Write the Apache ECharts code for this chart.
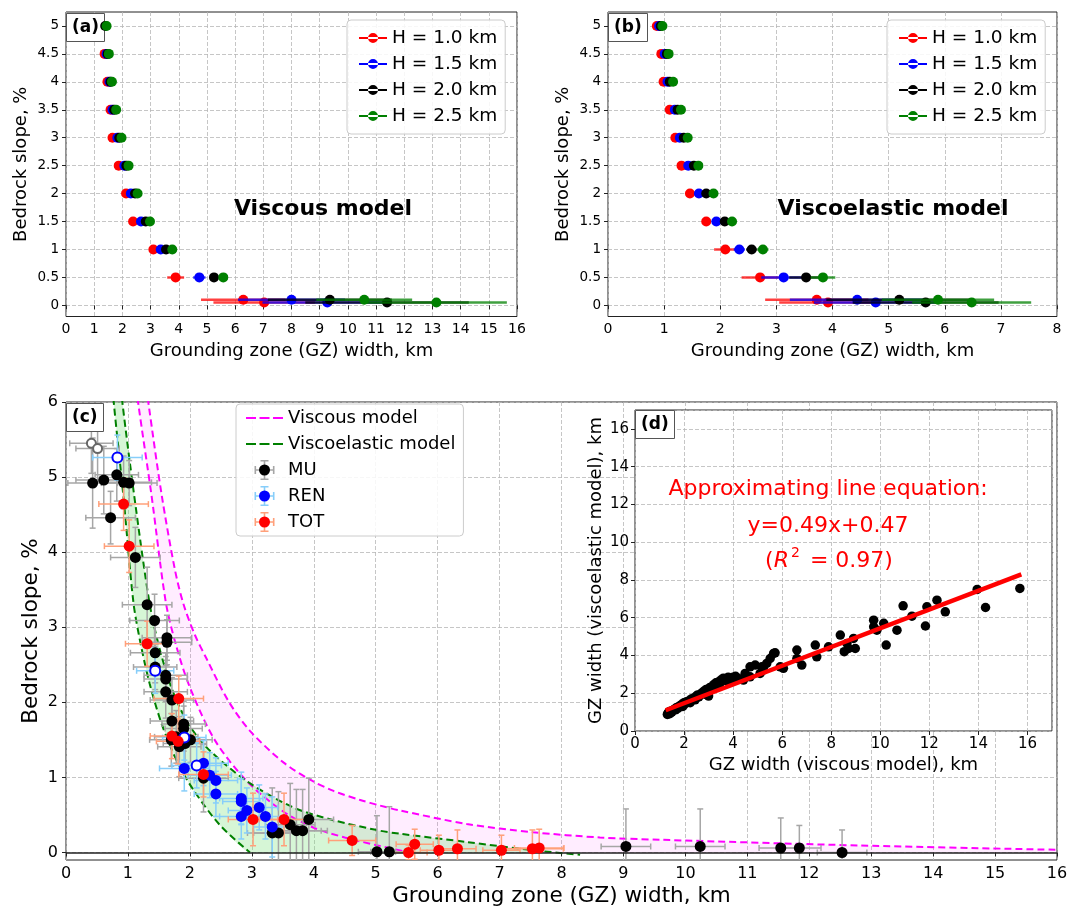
<!DOCTYPE html>
<html>
<head>
<meta charset="utf-8">
<script src="https://cdn.jsdelivr.net/npm/echarts@6/dist/echarts.min.js"></script>
<style>
html, body { margin: 0; padding: 0; background: #fff; }
#main { width: 1070px; height: 908px; }
</style>
</head>
<body>
<div id="main"></div>
<script type="text/javascript">
var FONT = 'DejaVu Sans';

// ---- panels (a) and (b): model GZ widths per bedrock slope ----
var slopes = [5, 4.5, 4, 3.5, 3, 2.5, 2, 1.5, 1, 0.5, 0.1, 0.05];
var hNames = ['H = 1.0 km', 'H = 1.5 km', 'H = 2.0 km', 'H = 2.5 km'];
var hColors = ['#ff0000', '#0000ff', '#000000', '#008000'];

var viscX = [
    [1.30, 1.37, 1.47, 1.58, 1.65, 1.87, 2.13, 2.38, 3.10, 3.89, 6.29, 7.03],
    [1.36, 1.44, 1.54, 1.65, 1.82, 2.07, 2.30, 2.66, 3.36, 4.73, 8.00, 9.27],
    [1.39, 1.48, 1.58, 1.71, 1.89, 2.14, 2.45, 2.83, 3.55, 5.25, 9.36, 11.39],
    [1.44, 1.52, 1.63, 1.78, 1.97, 2.22, 2.54, 2.98, 3.77, 5.58, 10.58, 13.14]
];
var viscErr = [
    [0.02, 0.02, 0.02, 0.03, 0.03, 0.04, 0.05, 0.06, 0.10, 0.30, 1.5, 1.8],
    [0.02, 0.02, 0.03, 0.03, 0.04, 0.05, 0.06, 0.07, 0.12, 0.22, 1.9, 2.3],
    [0.02, 0.03, 0.03, 0.03, 0.04, 0.05, 0.06, 0.08, 0.13, 0.15, 2.2, 2.9],
    [0.02, 0.03, 0.03, 0.04, 0.04, 0.05, 0.07, 0.08, 0.14, 0.15, 1.7, 2.5]
];
var viscoelX = [
    [0.87, 0.95, 0.99, 1.10, 1.20, 1.31, 1.46, 1.75, 2.09, 2.71, 3.72, 3.92],
    [0.91, 1.01, 1.06, 1.19, 1.28, 1.43, 1.62, 1.93, 2.34, 3.13, 4.44, 4.77],
    [0.94, 1.05, 1.10, 1.24, 1.35, 1.53, 1.75, 2.08, 2.56, 3.53, 5.19, 5.66],
    [0.97, 1.08, 1.16, 1.30, 1.42, 1.61, 1.88, 2.21, 2.76, 3.83, 5.88, 6.48]
];
var viscoelErr = [
    [0.02, 0.02, 0.02, 0.03, 0.03, 0.04, 0.05, 0.06, 0.20, 0.33, 0.92, 0.87],
    [0.02, 0.02, 0.03, 0.03, 0.04, 0.05, 0.06, 0.07, 0.10, 0.40, 1.2, 1.1],
    [0.02, 0.03, 0.03, 0.03, 0.04, 0.05, 0.06, 0.08, 0.10, 0.30, 1.3, 1.3],
    [0.02, 0.03, 0.03, 0.04, 0.04, 0.05, 0.07, 0.08, 0.10, 0.22, 1.0, 1.06]
];
var abYTicks = [0, 0.5, 1, 1.5, 2, 2.5, 3, 3.5, 4, 4.5, 5];

// ---- panel (c): model envelopes ----
var magUpX = [1.30, 1.335, 1.545, 1.76, 1.90, 2.08, 2.27, 2.62, 2.97, 3.51, 3.94, 4.32, 4.75, 5.07, 5.39, 6.47, 7.54, 8.62, 9.59, 12.82, 16.0];
var magUpY = [6.2, 5.96, 4.76, 3.76, 3.30, 2.90, 2.58, 2.02, 1.62, 1.20, 0.97, 0.82, 0.70, 0.625, 0.56, 0.38, 0.27, 0.20, 0.17, 0.093, 0.036];
var magLoX = [1.14, 1.17, 1.38, 1.61, 1.78, 2.0, 2.4, 2.92, 3.5, 4.0, 4.5, 5.0, 5.55];
var magLoY = [6.2, 5.96, 4.76, 3.34, 2.75, 2.2, 1.5, 0.95, 0.55, 0.33, 0.2, 0.1, 0.0];
var grnUpX = [0.89, 0.915, 1.10, 1.345, 1.50, 1.70, 1.95, 2.27, 2.92, 3.67, 4.32, 5.07, 5.39, 6.47, 7.54, 8.3];
var grnUpY = [6.2, 5.96, 4.76, 3.34, 2.75, 2.2, 1.75, 1.40, 0.95, 0.60, 0.43, 0.29, 0.25, 0.14, 0.03, -0.03];
var grnLoX = [0.755, 0.775, 0.925, 1.087, 1.2, 1.35, 1.55, 1.8, 2.06, 2.49, 2.97];
var grnLoY = [6.2, 5.96, 4.76, 3.34, 2.8, 2.25, 1.7, 1.2, 0.83, 0.36, 0.0];
var cYTicks = [0, 1, 2, 3, 4, 5, 6];

// ---- panel (c): observations ----
var muX = [0.43, 0.61, 0.82, 0.93, 1.02, 0.72, 1.12, 1.31, 1.43, 1.63, 1.63, 1.44, 1.44, 1.61, 1.61, 1.61, 1.71, 1.71, 1.90, 1.90, 1.78, 1.70, 2.01, 1.92, 1.83, 2.22, 3.33, 3.43, 3.62, 3.72, 3.82, 3.92, 5.02, 5.22, 9.04, 10.24, 11.54, 11.84, 12.53];
var muY = [4.92, 4.96, 5.03, 4.93, 4.92, 4.46, 3.93, 3.30, 3.09, 2.86, 2.80, 2.66, 2.47, 2.36, 2.31, 2.14, 2.03, 1.75, 1.71, 1.65, 1.54, 1.50, 1.50, 1.45, 1.41, 0.99, 0.26, 0.26, 0.37, 0.29, 0.29, 0.44, 0.01, 0.01, 0.08, 0.08, 0.06, 0.06, 0.0];
var muXErr = [0.4, 0.45, 0.35, 0.45, 0.45, 0.4, 0.4, 0.4, 0.4, 0.4, 0.4, 0.4, 0.35, 0.35, 0.35, 0.35, 0.35, 0.35, 0.35, 0.3, 0.35, 0.35, 0.35, 0.35, 0.35, 0.4, 0.4, 0.4, 0.4, 0.4, 0.4, 0.4, 0.3, 0.3, 0.4, 0.4, 0.35, 0.35, 0.4];
var muYErr = [0.6, 0.45, 0.35, 0.35, 0.3, 0.35, 0.4, 0.5, 0.35, 0.3, 0.3, 0.4, 0.3, 0.3, 0.3, 0.35, 0.3, 0.3, 0.3, 0.3, 0.35, 0.35, 0.3, 0.3, 0.4, 0.45, 0.6, 0.55, 0.55, 0.55, 0.55, 0.55, 0.48, 0.6, 0.5, 0.5, 0.4, 0.3, 0.3];
var muOpenX = [0.41, 0.51];
var muOpenY = [5.45, 5.38];
var muOpenXErr = [0.35, 0.35];
var muOpenYErr = [0.4, 0.45];

var renX = [1.91, 2.22, 2.32, 2.42, 2.42, 2.83, 2.83, 2.92, 2.83, 3.12, 3.22, 3.33];
var renY = [1.12, 1.19, 1.03, 0.96, 0.78, 0.72, 0.68, 0.56, 0.48, 0.60, 0.48, 0.34];
var renXErr = [0.4, 0.4, 0.35, 0.35, 0.35, 0.35, 0.3, 0.3, 0.35, 0.3, 0.3, 0.3];
var renYErr = [0.3, 0.3, 0.3, 0.3, 0.3, 0.35, 0.3, 0.3, 0.3, 0.3, 0.3, 0.4];
var renOpenX = [0.83, 1.44, 1.91, 2.11];
var renOpenY = [5.26, 2.42, 1.53, 1.16];
var renOpenXErr = [0.4, 0.3, 0.35, 0.4];
var renOpenYErr = [0.3, 0.3, 0.3, 0.3];

var totX = [0.93, 1.02, 1.31, 1.82, 1.71, 1.81, 2.22, 3.02, 3.52, 4.62, 5.53, 5.63, 6.02, 6.32, 7.03, 7.53, 7.64];
var totY = [4.64, 4.08, 2.78, 2.05, 1.55, 1.48, 1.04, 0.44, 0.44, 0.16, 0.0, 0.11, 0.03, 0.05, 0.03, 0.05, 0.06];
var totXErr = [0.4, 0.4, 0.35, 0.4, 0.35, 0.35, 0.4, 0.4, 0.4, 0.38, 0.3, 0.3, 0.3, 0.3, 0.3, 0.5, 0.4];
var totYErr = [0.35, 0.35, 0.3, 0.3, 0.3, 0.3, 0.3, 0.35, 0.35, 0.2, 0.1, 0.2, 0.2, 0.25, 0.2, 0.25, 0.25];

// ---- panel (d): viscous vs viscoelastic GZ width ----
var dX = [1.32, 1.35, 1.38, 1.42, 1.45, 1.5, 1.55, 1.6, 1.65, 1.7, 1.75, 1.8, 1.85, 1.9, 1.95, 2.0, 2.05, 2.1, 2.2, 2.25,
    2.3, 2.4, 2.45, 2.5, 2.55, 2.6, 2.7, 2.8, 2.85, 2.9, 3.0, 3.05, 3.1, 3.2, 3.25, 3.3, 3.4, 3.45, 3.5, 3.6,
    3.7, 3.75, 3.8, 3.9, 4.0, 4.1, 4.2,
    4.42, 4.49, 4.69, 4.69, 4.9, 5.1, 5.17, 5.24, 5.37, 5.51, 5.65, 5.71, 5.92, 6.05, 6.6, 6.6, 6.8, 7.35, 7.41, 7.89,
    8.37, 8.53, 8.64, 8.71, 8.91, 8.98, 9.73, 9.73, 9.86, 10.14, 10.24, 10.68, 10.93, 11.29, 11.84, 11.9, 12.31, 12.65, 13.95, 14.29, 15.69];
var dY = [0.88, 0.95, 1.0, 0.92, 1.05, 1.0, 1.1, 1.15, 1.12, 1.25, 1.2, 1.3, 1.35, 1.4, 1.3, 1.5, 1.45, 1.55, 1.6, 1.5,
    1.7, 1.75, 1.65, 1.85, 1.9, 1.8, 2.0, 2.1, 1.95, 2.2, 1.85, 2.3, 2.2, 2.45, 2.35, 2.55, 2.6, 2.5, 2.7, 2.8,
    2.75, 2.65, 2.85, 2.7, 2.85, 2.9, 2.8,
    2.70, 3.05, 2.87, 3.40, 3.49, 3.05, 3.40, 3.23, 3.58, 3.84, 4.11, 4.14, 3.40, 3.32, 4.29, 3.84, 3.49, 4.55, 3.93, 4.46,
    5.08, 4.20, 4.64, 4.37, 4.90, 4.37, 5.87, 5.52, 5.34, 5.70, 4.55, 5.34, 6.63, 6.08, 5.56, 6.58, 6.93, 6.31, 7.50, 6.54, 7.55];
var fitX = [1.25, 15.75];
var fitY = [1.1, 8.3];

// ---------------------------------------------------------------
function zip(a, b, c, d) {
    return a.map(function (v, i) { return [v, b[i], c ? c[i] : 0, d ? d[i] : 0]; });
}
function pts(a, b) {
    return a.map(function (v, i) { return [v, b[i]]; });
}

// error bars: value = [x, y, xErr, yErr]
function errRender(cap, lw, color, opacity) {
    return function (params, api) {
        var x = api.value(0), y = api.value(1), xe = api.value(2), ye = api.value(3);
        var style = { stroke: color, lineWidth: lw, opacity: opacity };
        var kids = [];
        if (xe > 0) {
            var l = api.coord([x - xe, y]), r = api.coord([x + xe, y]);
            kids.push({ type: 'line', shape: { x1: l[0], y1: l[1], x2: r[0], y2: r[1] }, style: style });
            if (cap) {
                kids.push({ type: 'line', shape: { x1: l[0], y1: l[1] - cap, x2: l[0], y2: l[1] + cap }, style: style });
                kids.push({ type: 'line', shape: { x1: r[0], y1: r[1] - cap, x2: r[0], y2: r[1] + cap }, style: style });
            }
        }
        if (ye > 0) {
            var t = api.coord([x, y + ye]), b = api.coord([x, y - ye]);
            kids.push({ type: 'line', shape: { x1: t[0], y1: t[1], x2: b[0], y2: b[1] }, style: style });
            if (cap) {
                kids.push({ type: 'line', shape: { x1: t[0] - cap, y1: t[1], x2: t[0] + cap, y2: t[1] }, style: style });
                kids.push({ type: 'line', shape: { x1: b[0] - cap, y1: b[1], x2: b[0] + cap, y2: b[1] }, style: style });
            }
        }
        return { type: 'group', children: kids };
    };
}

// filled band between an upper and a lower curve
function bandRender(upX, upY, loX, loY, fill) {
    return function (params, api) {
        if (params.dataIndex !== 0) return;
        var p = [];
        for (var i = 0; i < upX.length; i++) p.push(api.coord([upX[i], upY[i]]));
        p.push(api.coord([upX[upX.length - 1], 0]));
        for (var j = loX.length - 1; j >= 0; j--) p.push(api.coord([loX[j], loY[j]]));
        return { type: 'polygon', shape: { points: p, smooth: 0.15 }, style: { fill: fill } };
    };
}

var gridLine = { show: true, lineStyle: { color: '#b8b8b8', type: [4, 2], width: 0.8 } };

function axis(grid, min, max, interval, fs, name, nfs, gap, extra) {
    var a = {
        type: 'value', gridIndex: grid, min: min, max: max, interval: interval,
        name: name, nameLocation: 'middle', nameGap: gap, nameMoveOverlap: false,
        nameTextStyle: { fontFamily: FONT, fontSize: nfs, color: '#000' },
        axisLine: { show: false },
        axisTick: { show: true, inside: false, length: 4, lineStyle: { color: '#222' } },
        axisLabel: { fontFamily: FONT, fontSize: fs, color: '#000', margin: 6, hideOverlap: false },
        splitLine: gridLine
    };
    for (var k in extra) a[k] = extra[k];
    return a;
}

var lineDotIcon = 'path://M0,5h28v2h-28z M9,6a5,5 0 1,0 10,0a5,5 0 1,0 -10,0z';
var dashIcon = 'path://M0,0h10v2.2h-10z M13.5,0h10v2.2h-10z M27,0h10v2.2h-10z';
var crossIcon = 'path://M0,9.2h20v1.6h-20z M9.2,0h1.6v20h-1.6z M0,6h1.6v8h-1.6z M18.4,6h1.6v8h-1.6z M6,0h8v1.6h-8z M6,18.4h8v1.6h-8z';

var series = [];

// (a) and (b)
[[0, viscX, viscErr], [1, viscoelX, viscoelErr]].forEach(function (p) {
    for (var h = 0; h < 4; h++) {
        series.push({
            type: 'custom', name: 'err' + p[0] + h, xAxisIndex: p[0], yAxisIndex: p[0],
            renderItem: errRender(0, 2.5, hColors[h], 0.75),
            encode: { x: 0, y: 1 }, clip: true, silent: true, z: 2 + h * 2,
            data: zip(p[1][h], slopes, p[2][h], null)
        });
        series.push({
            type: 'scatter', name: hNames[h], xAxisIndex: p[0], yAxisIndex: p[0],
            symbolSize: 10, itemStyle: { color: hColors[h], opacity: 1 }, z: 3 + h * 2,
            data: pts(p[1][h], slopes)
        });
    }
});

// (c) envelopes
series.push({
    type: 'custom', name: 'bandVisc', xAxisIndex: 2, yAxisIndex: 2, clip: true, silent: true, z: 1,
    renderItem: bandRender(magUpX, magUpY, magLoX, magLoY, 'rgba(255,0,255,0.07)'),
    encode: { x: 0, y: 1 }, data: pts(magUpX, magUpY)
});
series.push({
    type: 'custom', name: 'bandVe', xAxisIndex: 2, yAxisIndex: 2, clip: true, silent: true, z: 1,
    renderItem: bandRender(grnUpX, grnUpY, grnLoX, grnLoY, 'rgba(120,225,120,0.3)'),
    encode: { x: 0, y: 1 }, data: pts(grnUpX, grnUpY)
});
[[magUpX, magUpY, '#ff00ff', 'Viscous model'], [magLoX, magLoY, '#ff00ff', 'Viscous model'],
 [grnUpX, grnUpY, '#008000', 'Viscoelastic model'], [grnLoX, grnLoY, '#008000', 'Viscoelastic model']].forEach(function (c) {
    series.push({
        type: 'line', name: c[3], xAxisIndex: 2, yAxisIndex: 2, showSymbol: false, symbol: 'none',
        smooth: 0.3, clip: true, z: 3, silent: true,
        itemStyle: { color: c[2] },
        lineStyle: { color: c[2], width: 2, type: [7, 4] },
        data: pts(c[0], c[1])
    });
});

// (c) error bars
[[zip(muX, muY, muXErr, muYErr), '#a6a6a6'], [zip(muOpenX, muOpenY, muOpenXErr, muOpenYErr), '#a6a6a6'],
 [zip(renX, renY, renXErr, renYErr), '#87cefa'], [zip(renOpenX, renOpenY, renOpenXErr, renOpenYErr), '#87cefa'],
 [zip(totX, totY, totXErr, totYErr), '#ffa07a']].forEach(function (e, i) {
    series.push({
        type: 'custom', name: 'errC' + i, xAxisIndex: 2, yAxisIndex: 2, clip: true, silent: true, z: 4,
        renderItem: errRender(3, 1.5, e[1], 1), encode: { x: 0, y: 1 }, data: e[0]
    });
});

// (c) points
series.push({
    type: 'scatter', name: 'MU', xAxisIndex: 2, yAxisIndex: 2, symbolSize: 11, z: 5,
    itemStyle: { color: '#000', opacity: 1 }, data: pts(muX, muY),
    markLine: {
        silent: true, symbol: 'none', label: { show: false }, animation: false,
        lineStyle: { color: '#222', width: 1.5, type: 'solid', opacity: 1 }, data: [{ yAxis: 0 }]
    }
});
series.push({
    type: 'scatter', name: 'MU open', xAxisIndex: 2, yAxisIndex: 2, symbol: 'emptyCircle', symbolSize: 9, z: 5,
    itemStyle: { color: '#666', borderWidth: 1.2, opacity: 1 }, data: pts(muOpenX, muOpenY)
});
series.push({
    type: 'scatter', name: 'REN', xAxisIndex: 2, yAxisIndex: 2, symbolSize: 11, z: 5,
    itemStyle: { color: '#0000ff', opacity: 1 }, data: pts(renX, renY)
});
series.push({
    type: 'scatter', name: 'REN open', xAxisIndex: 2, yAxisIndex: 2, symbol: 'emptyCircle', symbolSize: 10, z: 5,
    itemStyle: { color: '#0000ff', borderWidth: 1.2, opacity: 1 }, data: pts(renOpenX, renOpenY)
});
series.push({
    type: 'scatter', name: 'TOT', xAxisIndex: 2, yAxisIndex: 2, symbolSize: 11, z: 6,
    itemStyle: { color: '#ff0000', opacity: 1 }, data: pts(totX, totY)
});

// (d)
series.push({
    type: 'scatter', name: 'GZ pairs', xAxisIndex: 3, yAxisIndex: 3, symbolSize: 9.5, z: 7,
    itemStyle: { color: '#000', opacity: 1 }, data: pts(dX, dY)
});
series.push({
    type: 'line', name: 'fit', xAxisIndex: 3, yAxisIndex: 3, showSymbol: false, symbol: 'none', z: 8,
    lineStyle: { color: '#ff0000', width: 4.5 }, data: pts(fitX, fitY)
});

function panelLabel(txt, left, top) {
    return {
        text: txt, left: left, top: top, padding: [6, 6, 6, 6],
        borderColor: '#555', borderWidth: 1, backgroundColor: '#fff',
        textStyle: { fontFamily: FONT, fontSize: 17, fontWeight: 'bold', color: '#000' }
    };
}

function hLegend(left) {
    return {
        orient: 'vertical', left: left, top: 20, padding: [8, 8, 8, 12],
        itemWidth: 28, itemHeight: 10, itemGap: 6,
        backgroundColor: 'rgba(255,255,255,0.85)', borderColor: '#ccc', borderWidth: 1, borderRadius: 4,
        textStyle: { fontFamily: FONT, fontSize: 18.5, color: '#000', lineHeight: 20 },
        selectedMode: false,
        data: hNames.map(function (n, i) { return { name: n, icon: lineDotIcon, itemStyle: { color: hColors[i] } }; })
    };
}

var abYLabel = { fontFamily: FONT, fontSize: 13.5, color: '#000', margin: 7, customValues: abYTicks };
var abYTick = { show: true, length: 4, lineStyle: { color: '#222' }, customValues: abYTicks };

var option = {
    backgroundColor: '#fff',
    animation: false,
    title: [
        panelLabel('(a)', 66, 13),
        panelLabel('(b)', 608, 13),
        panelLabel('(c)', 66, 403),
        panelLabel('(d)', 635, 410)
    ],
    grid: [
        { left: 66, top: 12, width: 451, height: 304.5, show: true, borderColor: '#222', borderWidth: 1, backgroundColor: 'transparent', outerBoundsMode: 'none' },
        { left: 608, top: 12, width: 449, height: 304.5, show: true, borderColor: '#222', borderWidth: 1, backgroundColor: 'transparent', outerBoundsMode: 'none' },
        { left: 66, top: 402, width: 991, height: 458, show: true, borderColor: '#222', borderWidth: 1, backgroundColor: 'transparent', outerBoundsMode: 'none' },
        { left: 635, top: 410, width: 417, height: 321, show: true, borderColor: '#222', borderWidth: 1, backgroundColor: '#fff', z: 1, outerBoundsMode: 'none' }
    ],
    xAxis: [
        axis(0, 0, 16, 1, 14, 'Grounding zone (GZ) width, km', 18, 26, {}),
        axis(1, 0, 8, 1, 14, 'Grounding zone (GZ) width, km', 18, 26, {}),
        axis(2, 0, 16, 1, 16, 'Grounding zone (GZ) width, km', 21.5, 25, {}),
        axis(3, 0, 17, 2, 15, 'GZ width (viscous model), km', 18, 25, { z: 2, axisLabel: { fontFamily: FONT, fontSize: 15, color: '#000', margin: 6, showMaxLabel: false } })
    ],
    yAxis: [
        axis(0, -0.2, 5.25, 0.5, 13.5, 'Bedrock slope, %', 18, 36, { axisLabel: abYLabel, axisTick: abYTick }),
        axis(1, -0.2, 5.25, 0.5, 13.5, 'Bedrock slope, %', 18, 36, { axisLabel: abYLabel, axisTick: abYTick }),
        axis(2, -0.1, 6, 1, 16, 'Bedrock slope, %', 21.5, 24, { axisLabel: { fontFamily: FONT, fontSize: 16, color: '#000', margin: 8, customValues: cYTicks }, axisTick: { show: true, length: 4, lineStyle: { color: '#222' }, customValues: cYTicks } }),
        axis(3, 0, 17, 2, 15, 'GZ width (viscoelastic model), km', 18, 30, { z: 2, axisLabel: { fontFamily: FONT, fontSize: 15, color: '#000', margin: 6, showMaxLabel: false } })
    ],
    legend: [
        hLegend(347),
        hLegend(887),
        {
            orient: 'vertical', left: 236, top: 404, padding: [4, 8, 4, 10], z: 10,
            itemWidth: 37, itemHeight: 20, itemGap: 6,
            backgroundColor: 'rgba(255,255,255,0.85)', borderColor: '#ccc', borderWidth: 1, borderRadius: 4,
            textStyle: { fontFamily: FONT, fontSize: 18, color: '#000', lineHeight: 20 },
            selectedMode: false,
            data: [
                { name: 'Viscous model', icon: dashIcon, itemStyle: { color: '#ff00ff' } },
                { name: 'Viscoelastic model', icon: dashIcon, itemStyle: { color: '#008000' } },
                { name: 'MU', icon: crossIcon, itemStyle: { color: '#a6a6a6' } },
                { name: 'REN', icon: crossIcon, itemStyle: { color: '#87cefa' } },
                { name: 'TOT', icon: crossIcon, itemStyle: { color: '#ffa07a' } }
            ]
        },
        {
            orient: 'vertical', left: 259, top: 464.5, padding: 0, z: 11,
            itemWidth: 11, itemHeight: 11, itemGap: 15,
            textStyle: { fontSize: 10, lineHeight: 11 },
            formatter: function () { return ''; },
            selectedMode: false,
            data: [
                { name: 'MU', icon: 'circle', itemStyle: { color: '#000' } },
                { name: 'REN', icon: 'circle', itemStyle: { color: '#0000ff' } },
                { name: 'TOT', icon: 'circle', itemStyle: { color: '#ff0000' } }
            ]
        }
    ],
    graphic: [
        { type: 'text', x: 323, y: 209, z: 20, style: { text: 'Viscous model', fontFamily: FONT, fontSize: 22, fontWeight: 'bold', fill: '#000', align: 'center', verticalAlign: 'middle' } },
        { type: 'text', x: 893, y: 209, z: 20, style: { text: 'Viscoelastic model', fontFamily: FONT, fontSize: 22, fontWeight: 'bold', fill: '#000', align: 'center', verticalAlign: 'middle' } },
        { type: 'text', x: 828, y: 489, z: 20, style: { text: 'Approximating line equation:', fontFamily: FONT, fontSize: 22, fill: '#ff0000', align: 'center', verticalAlign: 'middle' } },
        { type: 'text', x: 828, y: 526, z: 20, style: { text: 'y=0.49x+0.47', fontFamily: FONT, fontSize: 22, fill: '#ff0000', align: 'center', verticalAlign: 'middle' } },
        {
            type: 'text', x: 829, y: 561, z: 20,
            style: {
                text: '{n|(}{i|R}{s|2}{n| = 0.97)}', align: 'center', verticalAlign: 'middle',
                rich: {
                    n: { fontFamily: FONT, fontSize: 22, fill: '#ff0000', lineHeight: 30 },
                    i: { fontFamily: FONT, fontSize: 22, fontStyle: 'italic', fill: '#ff0000', lineHeight: 30 },
                    s: { fontFamily: FONT, fontSize: 14, fill: '#ff0000', lineHeight: 14, verticalAlign: 'top', padding: [0, 3, 0, 2] }
                }
            }
        }
    ],
    series: series
};

var chart = echarts.init(document.getElementById('main'));
chart.setOption(option);
</script>
</body>
</html>
